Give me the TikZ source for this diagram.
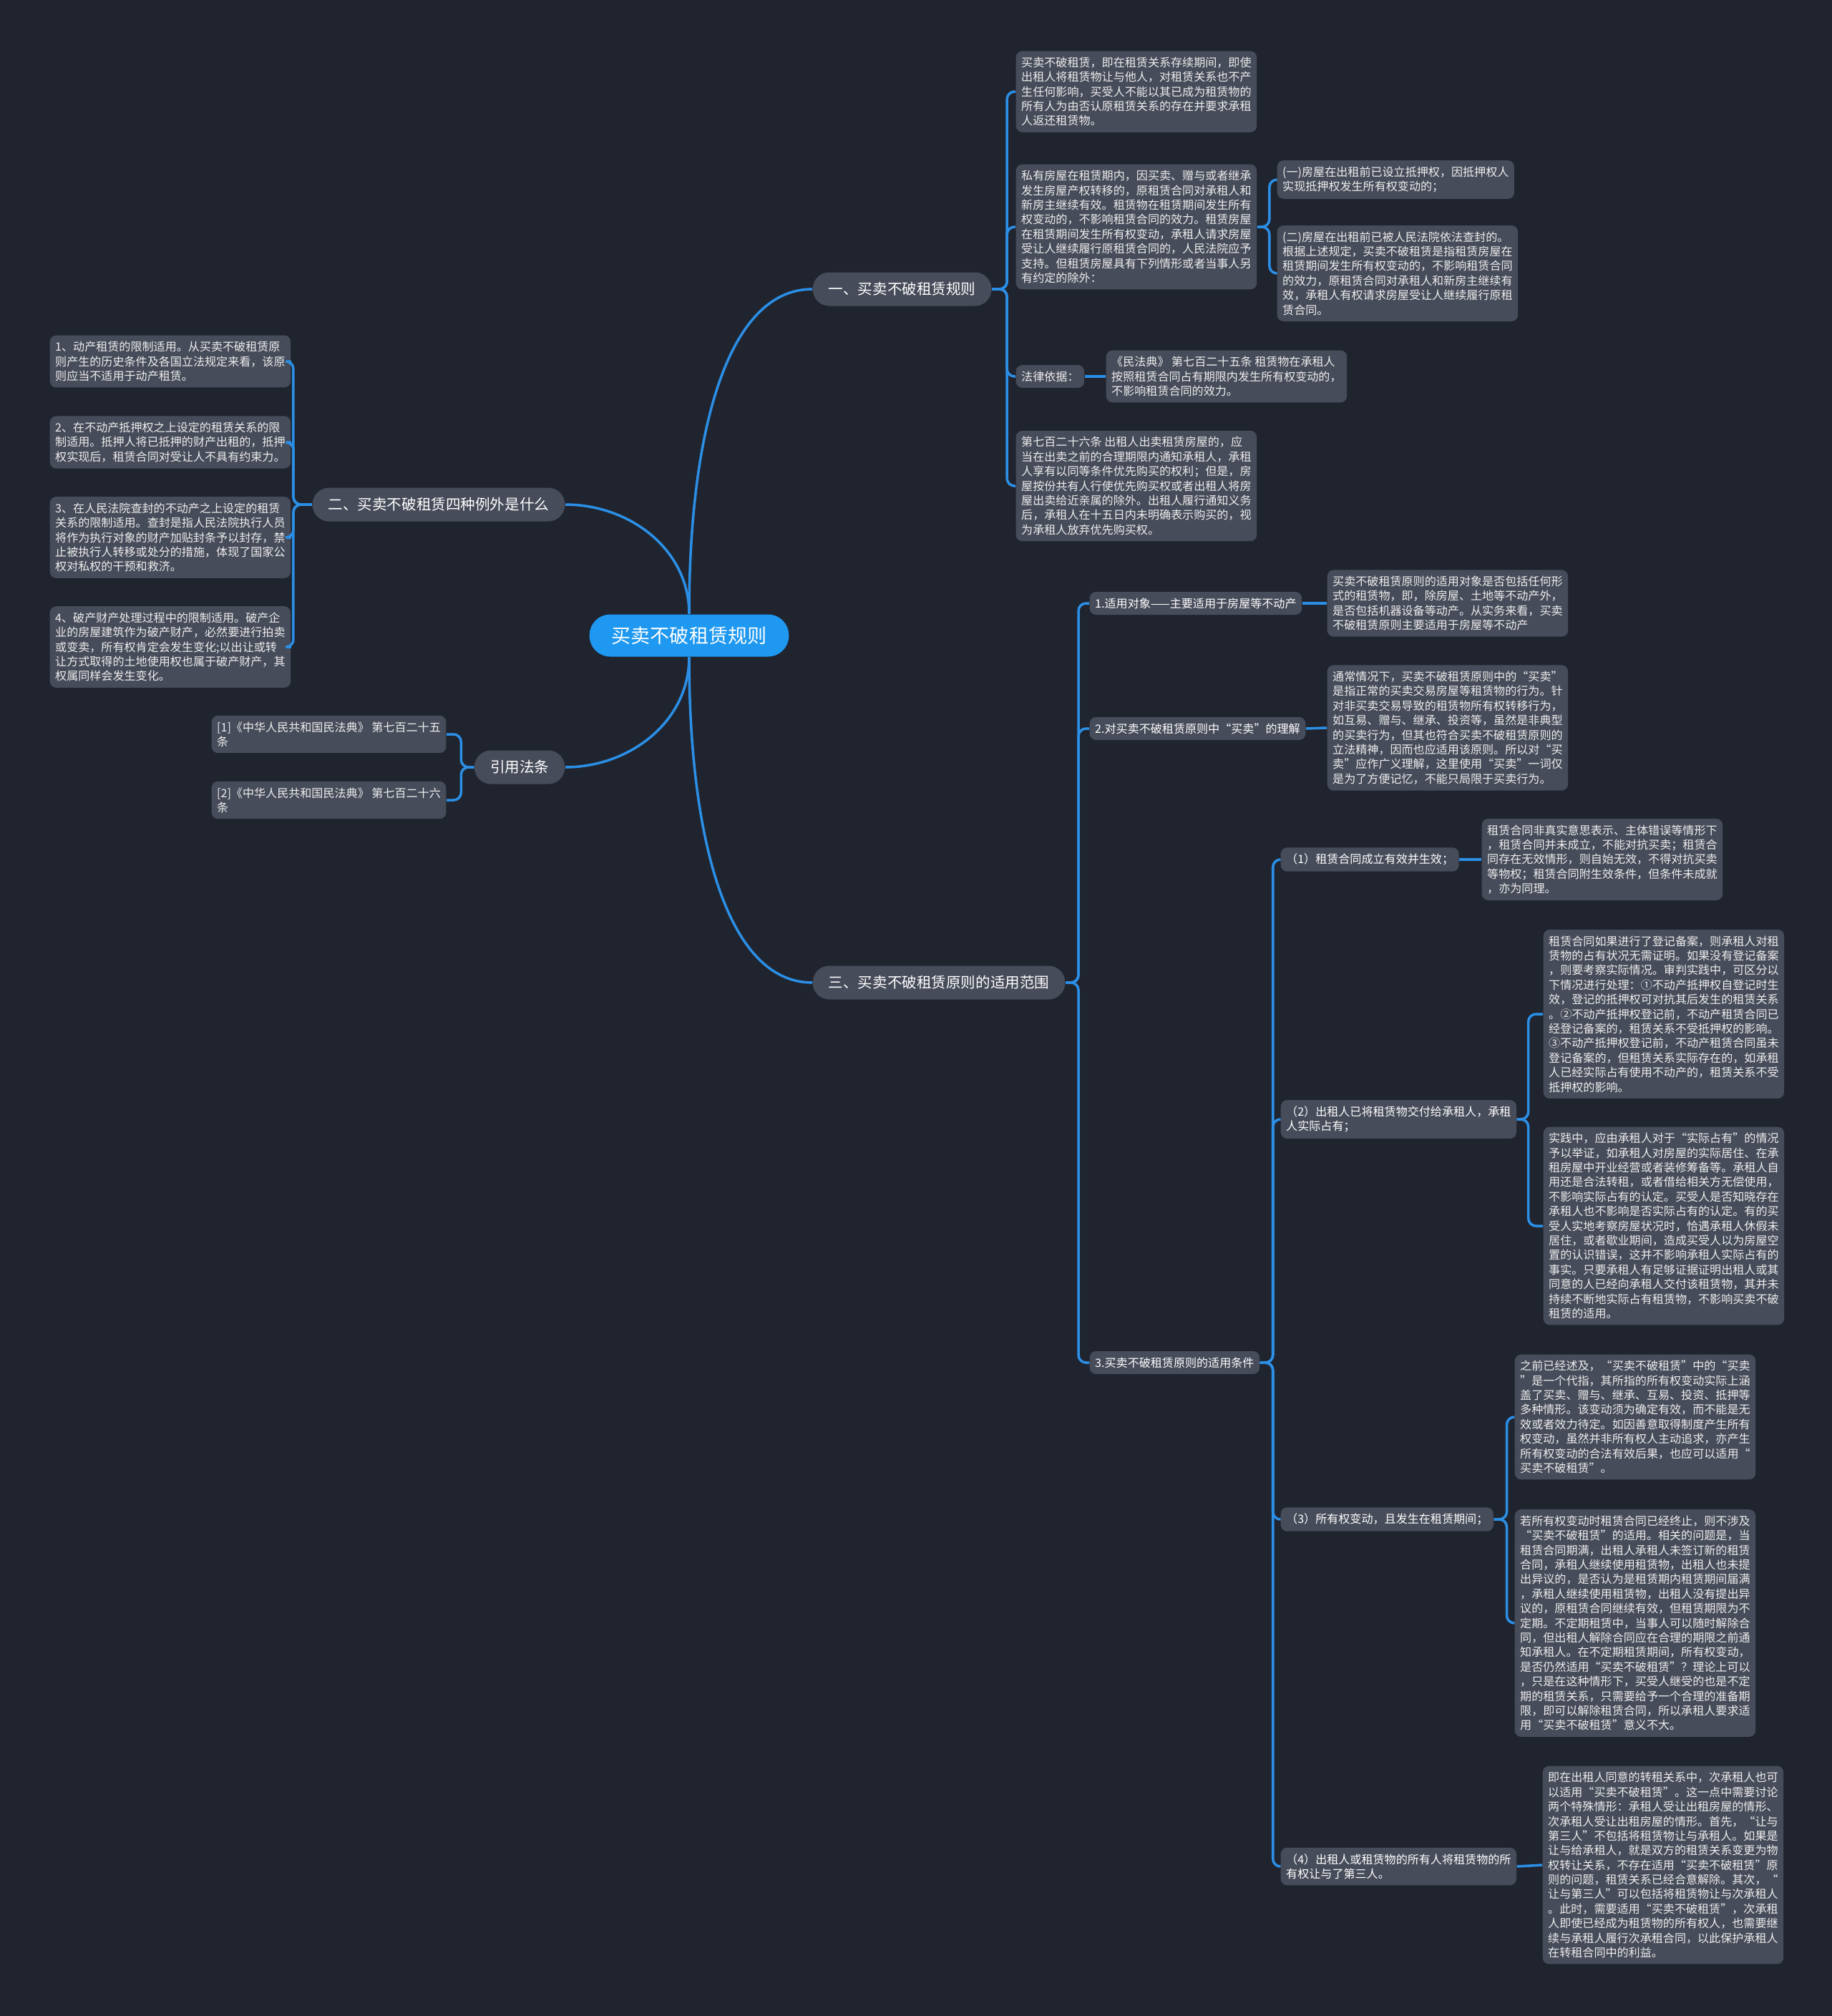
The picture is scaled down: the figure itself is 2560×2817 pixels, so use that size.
\documentclass[tikz,border=0pt]{standalone}
\usepackage{fontspec}
\setmainfont{Noto Sans CJK SC}
\definecolor{bgdark}{HTML}{20242F}
\definecolor{boxgrey}{HTML}{474C5A}
\definecolor{linkblue}{HTML}{2B8FE6}
\definecolor{rootblue}{HTML}{1E98F0}
\definecolor{notetext}{HTML}{EEEEEE}
\newcommand{\smallcjk}{\fontsize{4.57pt}{5.8pt}\selectfont}
\begin{document}
\begin{tikzpicture}[x=0.01cm, y=-0.01cm,
	link/.style={draw=linkblue, line width=1pt, rounded corners=3pt},
	rootnode/.style={fill=rootblue, text=white, rounded corners=0.29cm, minimum height=0.59cm, inner xsep=0.31cm, inner ysep=0pt, font=\fontsize{7.7pt}{9pt}\selectfont},
	topic/.style={fill=boxgrey, text=white, rounded corners=0.23cm, minimum height=0.47cm, inner xsep=0.22cm, inner ysep=0pt, font=\fontsize{5.85pt}{7pt}\selectfont},
	sub/.style={fill=boxgrey, text=white, rounded corners=2.5pt, inner xsep=0.075cm, inner ysep=0.085cm, align=left, font=\smallcjk},
	note/.style={sub, text=notetext}]
	\fill[bgdark] (0,0) rectangle (2560,2817);
	\useasboundingbox (0,0) rectangle (2560,2817);

	\node[rootnode] (root) at (963,888) {买卖不破租赁规则};
	\node[topic, anchor=west] (t1) at (1135,404) {一、买卖不破租赁规则};
	\node[topic, anchor=east] (t2) at (790,705) {二、买卖不破租赁四种例外是什么};
	\node[topic, anchor=east] (t3) at (790,1072) {引用法条};
	\node[topic, anchor=west] (t4) at (1135,1373) {三、买卖不破租赁原则的适用范围};

	\draw[link] (root.north) .. controls +(0,-250) and +(-120,0) .. (t1.west);
	\draw[link] (root.north) .. controls +(0,-90) and +(90,0) .. (t2.east);
	\draw[link] (root.south) .. controls +(0,90) and +(90,0) .. (t3.east);
	\draw[link] (root.south) .. controls +(0,250) and +(-120,0) .. (t4.west);

	% 一
	\node[note, anchor=west] (a1) at (1419,128) {买卖不破租赁，即在租赁关系存续期间，即使\\出租人将租赁物让与他人，对租赁关系也不产\\生任何影响，买受人不能以其已成为租赁物的\\所有人为由否认原租赁关系的存在并要求承租\\人返还租赁物。};
	\node[note, anchor=west] (a2) at (1419,317) {私有房屋在租赁期内，因买卖、赠与或者继承\\发生房屋产权转移的，原租赁合同对承租人和\\新房主继续有效。租赁物在租赁期间发生所有\\权变动的，不影响租赁合同的效力。租赁房屋\\在租赁期间发生所有权变动，承租人请求房屋\\受让人继续履行原租赁合同的，人民法院应予\\支持。但租赁房屋具有下列情形或者当事人另\\有约定的除外：};
	\node[note, anchor=west] (a3) at (1419,526) {法律依据：};
	\node[note, anchor=west] (a4) at (1419,679) {第七百二十六条 出租人出卖租赁房屋的，应\\当在出卖之前的合理期限内通知承租人，承租\\人享有以同等条件优先购买的权利；但是，房\\屋按份共有人行使优先购买权或者出租人将房\\屋出卖给近亲属的除外。出租人履行通知义务\\后，承租人在十五日内未明确表示购买的，视\\为承租人放弃优先购买权。};
	\node[note, anchor=west] (a21) at (1784,251) {(一)房屋在出租前已设立抵押权，因抵押权人\\实现抵押权发生所有权变动的；};
	\node[note, anchor=west] (a22) at (1784,382) {(二)房屋在出租前已被人民法院依法查封的。\\根据上述规定，买卖不破租赁是指租赁房屋在\\租赁期间发生所有权变动的，不影响租赁合同\\的效力，原租赁合同对承租人和新房主继续有\\效，承租人有权请求房屋受让人继续履行原租\\赁合同。};
	\node[note, anchor=west] (a31) at (1545,526) {《民法典》 第七百二十五条 租赁物在承租人\\按照租赁合同占有期限内发生所有权变动的，\\不影响租赁合同的效力。};

	\foreach \c in {a1,a2,a3,a4}
		\draw[link] (t1.east) -- ++(21,0) |- (\c.west);
	\foreach \c in {a21,a22}
		\draw[link] (a2.east) -- ++(17,0) |- (\c.west);
	\draw[link] (a3.east) -- (a31.west);

	% 二
	\node[note, anchor=west] (b1) at (69,505) {1、动产租赁的限制适用。从买卖不破租赁原\\则产生的历史条件及各国立法规定来看，该原\\则应当不适用于动产租赁。};
	\node[note, anchor=west] (b2) at (69,618) {2、在不动产抵押权之上设定的租赁关系的限\\制适用。抵押人将已抵押的财产出租的，抵押\\权实现后，租赁合同对受让人不具有约束力。};
	\node[note, anchor=west] (b3) at (69,751) {3、在人民法院查封的不动产之上设定的租赁\\关系的限制适用。查封是指人民法院执行人员\\将作为执行对象的财产加贴封条予以封存，禁\\止被执行人转移或处分的措施，体现了国家公\\权对私权的干预和救济。};
	\node[note, anchor=west] (b4) at (69,904) {4、破产财产处理过程中的限制适用。破产企\\业的房屋建筑作为破产财产，必然要进行拍卖\\或变卖，所有权肯定会发生变化;以出让或转\\让方式取得的土地使用权也属于破产财产，其\\权属同样会发生变化。};

	\foreach \c in {b1,b2,b3,b4}
		\draw[link] (t2.west) -- ++(-26,0) |- (\c.east);

	% 引用法条
	\node[note, anchor=west] (r1) at (295,1026) {[1]《中华人民共和国民法典》 第七百二十五\\条};
	\node[note, anchor=west] (r2) at (295,1118) {[2]《中华人民共和国民法典》 第七百二十六\\条};

	\foreach \c in {r1,r2}
		\draw[link] (t3.west) -- ++(-18,0) |- (\c.east);

	% 三
	\node[sub, anchor=west] (s1) at (1522,843) {1.适用对象——主要适用于房屋等不动产};
	\node[note, anchor=west] (s1x) at (1854,843) {买卖不破租赁原则的适用对象是否包括任何形\\式的租赁物，即，除房屋、土地等不动产外，\\是否包括机器设备等动产。从实务来看，买卖\\不破租赁原则主要适用于房屋等不动产};
	\node[sub, anchor=west] (s2) at (1522,1018) {2.对买卖不破租赁原则中“买卖”的理解};
	\node[note, anchor=west] (s2x) at (1854,1017) {通常情况下，买卖不破租赁原则中的“买卖”\\是指正常的买卖交易房屋等租赁物的行为。针\\对非买卖交易导致的租赁物所有权转移行为，\\如互易、赠与、继承、投资等，虽然是非典型\\的买卖行为，但其也符合买卖不破租赁原则的\\立法精神，因而也应适用该原则。所以对“买\\卖”应作广义理解，这里使用“买卖”一词仅\\是为了方便记忆，不能只局限于买卖行为。};
	\node[sub, anchor=west] (s3) at (1522,1904) {3.买卖不破租赁原则的适用条件};

	\foreach \c in {s1,s2,s3}
		\draw[link] (t4.east) -- ++(18,0) |- (\c.west);
	\draw[link] (s1.east) -- (s1x.west);
	\draw[link] (s2.east) -- (s2x.west);

	\node[sub, anchor=west] (s31) at (1789,1201) {（1）租赁合同成立有效并生效；};
	\node[note, anchor=west] (s31x) at (2070,1201) {租赁合同非真实意思表示、主体错误等情形下\\，租赁合同并未成立，不能对抗买卖；租赁合\\同存在无效情形，则自始无效，不得对抗买卖\\等物权；租赁合同附生效条件，但条件未成就\\，亦为同理。};
	\node[sub, anchor=west] (s32) at (1789,1564) {（2）出租人已将租赁物交付给承租人，承租\\人实际占有；};
	\node[note, anchor=west] (s32a) at (2156,1417) {租赁合同如果进行了登记备案，则承租人对租\\赁物的占有状况无需证明。如果没有登记备案\\，则要考察实际情况。审判实践中，可区分以\\下情况进行处理：①不动产抵押权自登记时生\\效，登记的抵押权可对抗其后发生的租赁关系\\。②不动产抵押权登记前，不动产租赁合同已\\经登记备案的，租赁关系不受抵押权的影响。\\③不动产抵押权登记前，不动产租赁合同虽未\\登记备案的，但租赁关系实际存在的，如承租\\人已经实际占有使用不动产的，租赁关系不受\\抵押权的影响。};
	\node[note, anchor=west] (s32b) at (2156,1713) {实践中，应由承租人对于“实际占有”的情况\\予以举证，如承租人对房屋的实际居住、在承\\租房屋中开业经营或者装修筹备等。承租人自\\用还是合法转租，或者借给相关方无偿使用，\\不影响实际占有的认定。买受人是否知晓存在\\承租人也不影响是否实际占有的认定。有的买\\受人实地考察房屋状况时，恰遇承租人休假未\\居住，或者歇业期间，造成买受人以为房屋空\\置的认识错误，这并不影响承租人实际占有的\\事实。只要承租人有足够证据证明出租人或其\\同意的人已经向承租人交付该租赁物，其并未\\持续不断地实际占有租赁物，不影响买卖不破\\租赁的适用。};
	\node[sub, anchor=west] (s33) at (1789,2123) {（3）所有权变动，且发生在租赁期间；};
	\node[note, anchor=west] (s33a) at (2116,1980) {之前已经述及，“买卖不破租赁”中的“买卖\\”是一个代指，其所指的所有权变动实际上涵\\盖了买卖、赠与、继承、互易、投资、抵押等\\多种情形。该变动须为确定有效，而不能是无\\效或者效力待定。如因善意取得制度产生所有\\权变动，虽然并非所有权人主动追求，亦产生\\所有权变动的合法有效后果，也应可以适用“\\买卖不破租赁”。};
	\node[note, anchor=west] (s33b) at (2116,2268) {若所有权变动时租赁合同已经终止，则不涉及\\“买卖不破租赁”的适用。相关的问题是，当\\租赁合同期满，出租人承租人未签订新的租赁\\合同，承租人继续使用租赁物，出租人也未提\\出异议的，是否认为是租赁期内租赁期间届满\\，承租人继续使用租赁物，出租人没有提出异\\议的，原租赁合同继续有效，但租赁期限为不\\定期。不定期租赁中，当事人可以随时解除合\\同，但出租人解除合同应在合理的期限之前通\\知承租人。在不定期租赁期间，所有权变动，\\是否仍然适用“买卖不破租赁”？理论上可以\\，只是在这种情形下，买受人继受的也是不定\\期的租赁关系，只需要给予一个合理的准备期\\限，即可以解除租赁合同，所以承租人要求适\\用“买卖不破租赁”意义不大。};
	\node[sub, anchor=west] (s34) at (1789,2608) {（4）出租人或租赁物的所有人将租赁物的所\\有权让与了第三人。};
	\node[note, anchor=west] (s34x) at (2155,2606) {即在出租人同意的转租关系中，次承租人也可\\以适用“买卖不破租赁”。这一点中需要讨论\\两个特殊情形：承租人受让出租房屋的情形、\\次承租人受让出租房屋的情形。首先，“让与\\第三人”不包括将租赁物让与承租人。如果是\\让与给承租人，就是双方的租赁关系变更为物\\权转让关系，不存在适用“买卖不破租赁”原\\则的问题，租赁关系已经合意解除。其次，“\\让与第三人”可以包括将租赁物让与次承租人\\。此时，需要适用“买卖不破租赁”，次承租\\人即使已经成为租赁物的所有权人，也需要继\\续与承租人履行次承租合同，以此保护承租人\\在转租合同中的利益。};

	\foreach \c in {s31,s32,s33,s34}
		\draw[link] (s3.east) -- ++(18,0) |- (\c.west);
	\draw[link] (s31.east) -- (s31x.west);
	\foreach \c in {s32a,s32b}
		\draw[link] (s32.east) -- ++(16,0) |- (\c.west);
	\foreach \c in {s33a,s33b}
		\draw[link] (s33.east) -- ++(18,0) |- (\c.west);
	\draw[link] (s34.east) -- (s34x.west);
\end{tikzpicture}
\end{document}
